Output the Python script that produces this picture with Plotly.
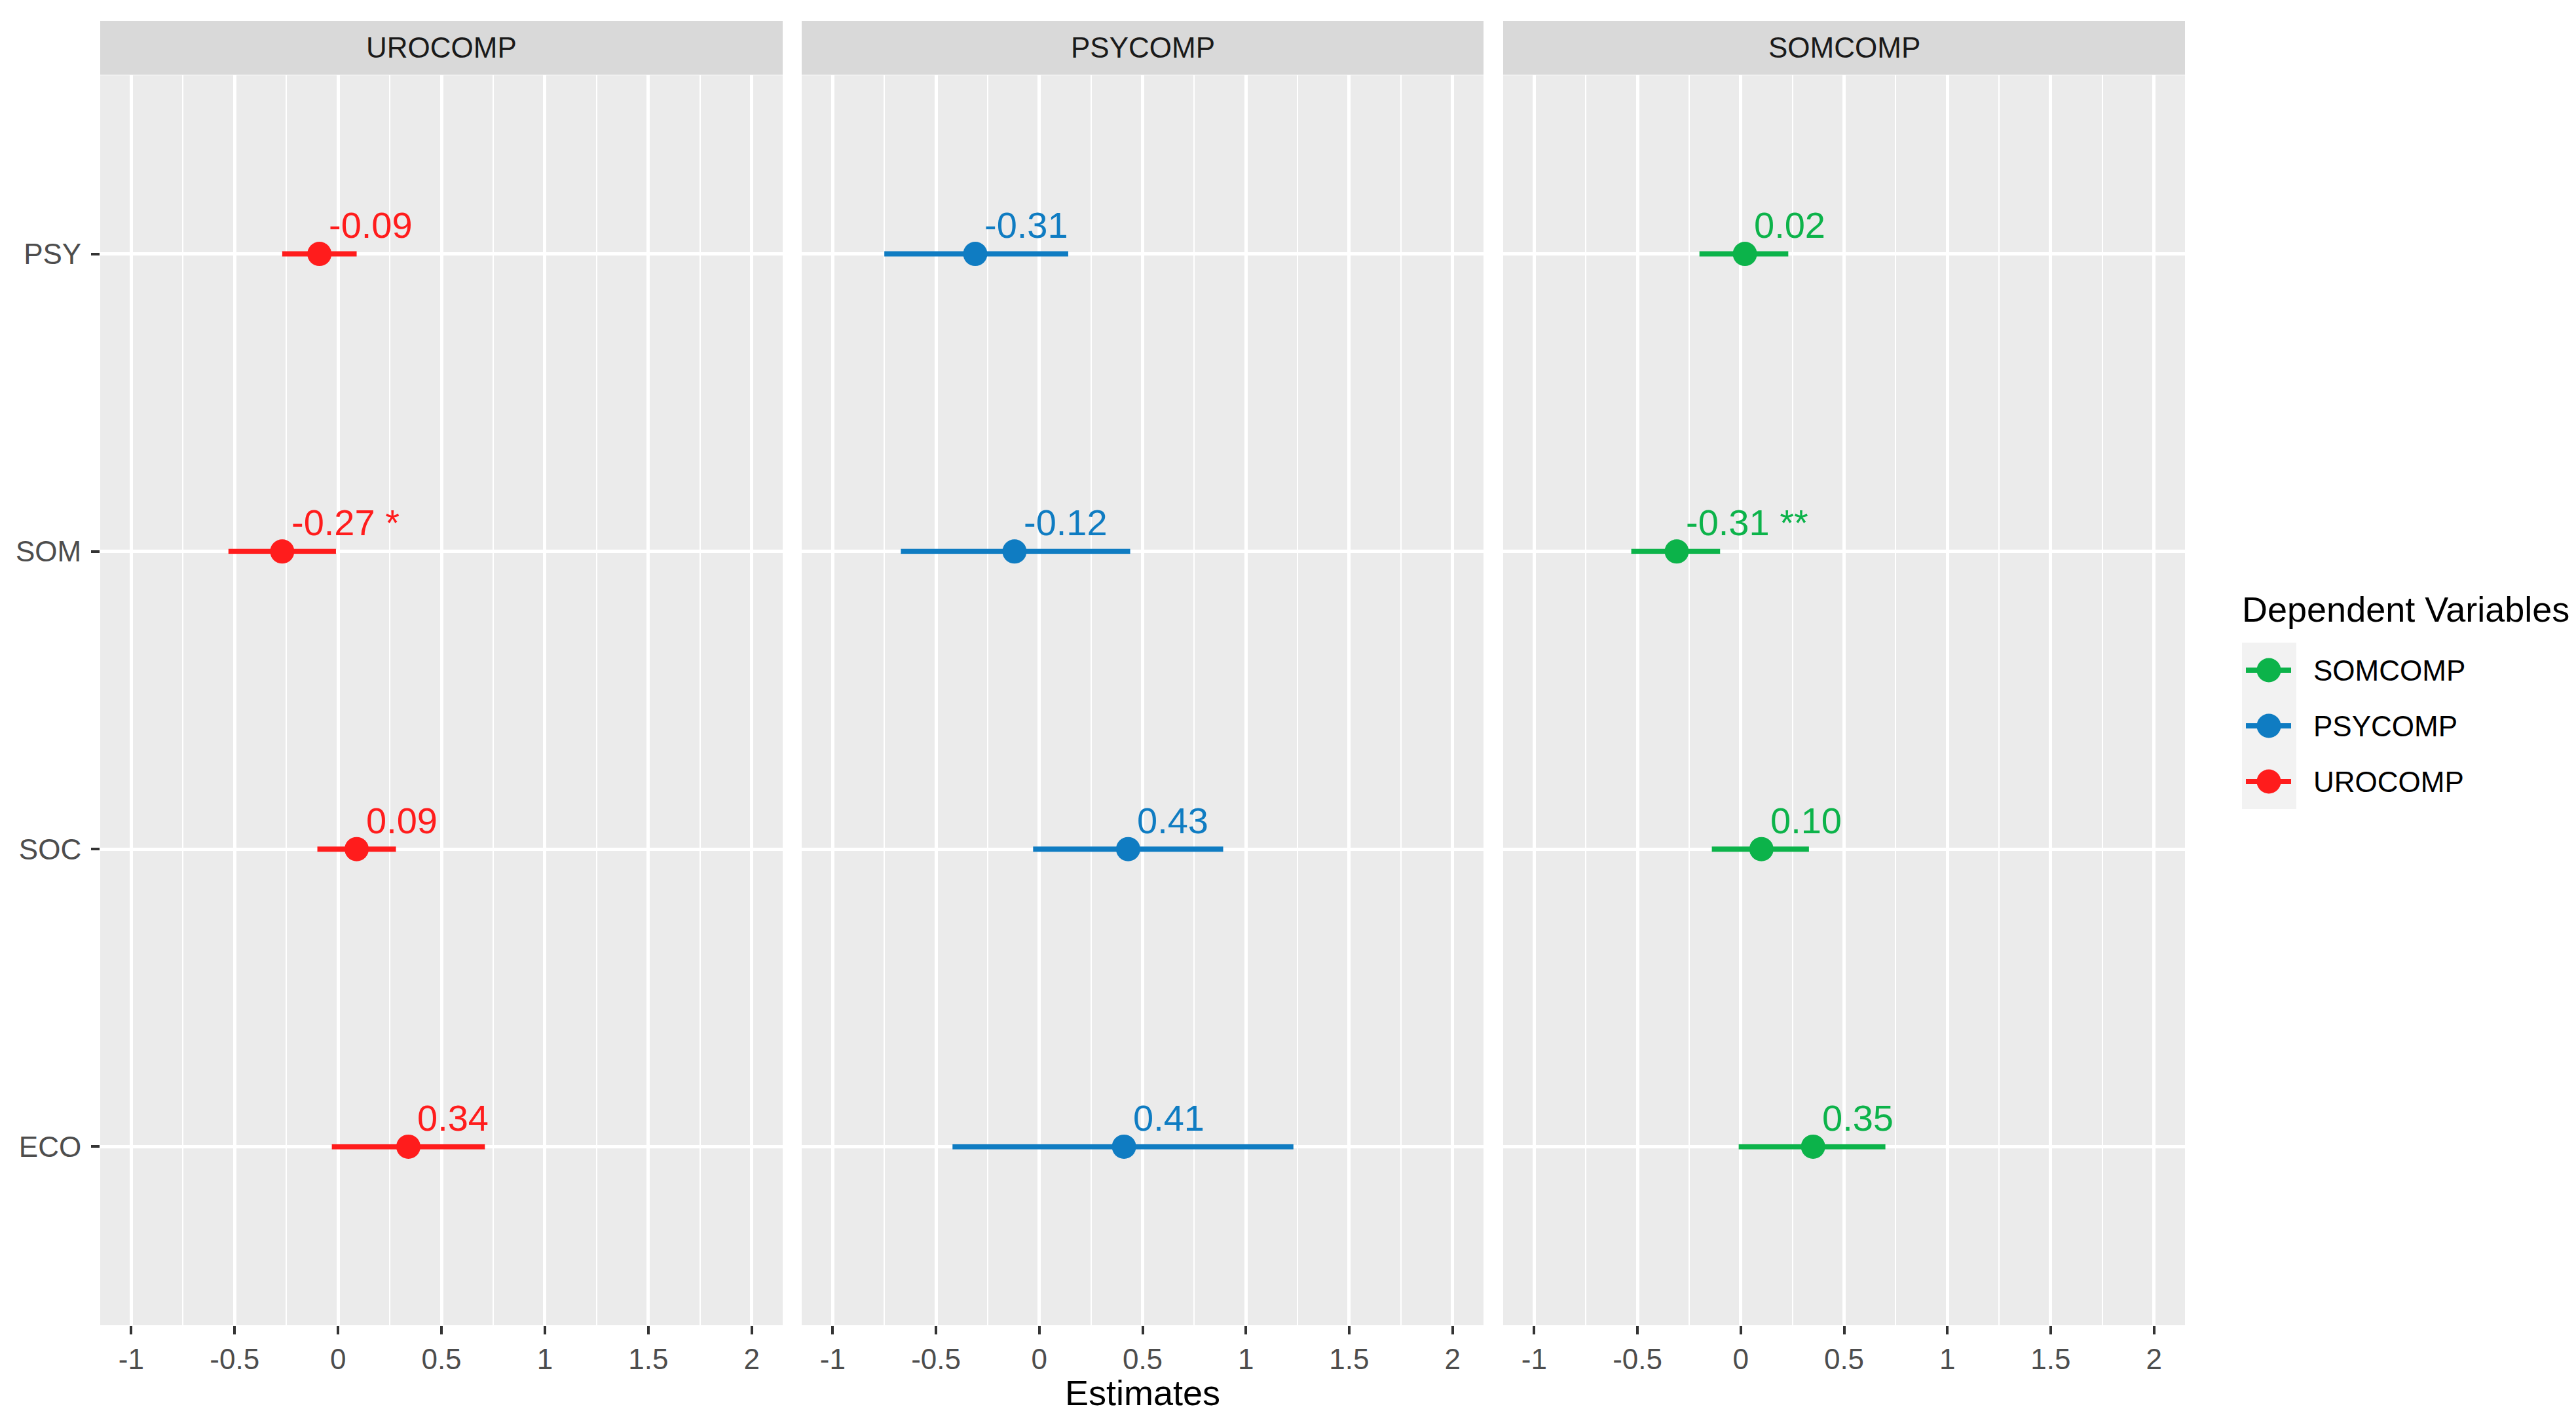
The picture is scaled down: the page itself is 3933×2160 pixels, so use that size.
import plotly.graph_objects as go

# ---------------- data ----------------
predictors = ["PSY", "SOM", "SOC", "ECO"]
panels = ["UROCOMP", "PSYCOMP", "SOMCOMP"]

uro_est = [-0.09, -0.27, 0.09, 0.34]
uro_lo = [-0.27, -0.53, -0.10, -0.03]
uro_hi = [0.09, -0.01, 0.28, 0.71]
uro_stars = ["", " *", "", ""]

psy_est = [-0.31, -0.12, 0.43, 0.41]
psy_lo = [-0.75, -0.67, -0.03, -0.42]
psy_hi = [0.14, 0.44, 0.89, 1.23]
psy_stars = ["", "", "", ""]

som_est = [0.02, -0.31, 0.10, 0.35]
som_lo = [-0.20, -0.53, -0.14, -0.01]
som_hi = [0.23, -0.10, 0.33, 0.70]
som_stars = ["", " **", "", ""]

x_tickvals = [-1, -0.5, 0, 0.5, 1, 1.5, 2]
x_ticktext = ["-1", "-0.5", "0", "0.5", "1", "1.5", "2"]
x_minor = [-0.75, -0.25, 0.25, 0.75, 1.25, 1.75]

legend_order = ["SOMCOMP", "PSYCOMP", "UROCOMP"]

# ---------------- styling ----------------
W, H = 3933, 2160
FONT = "Liberation Sans, Arial, Helvetica, sans-serif"
colors = {"UROCOMP": "#FF1C1C", "PSYCOMP": "#0F7CC2", "SOMCOMP": "#0CB34A"}


def PX(px):
    return px / W


def PY(py):
    return 1 - py / H


x_domains = [(145, 1187), (1216, 2257), (2287, 3328)]
y_domain = [PY(2015), PY(107)]
strip_y = (PY(106), PY(24))

series = {
    "UROCOMP": (uro_est, uro_lo, uro_hi, uro_stars),
    "PSYCOMP": (psy_est, psy_lo, psy_hi, psy_stars),
    "SOMCOMP": (som_est, som_lo, som_hi, som_stars),
}

fig = go.Figure()
annotations = []
shapes = []

for i, name in enumerate(panels, start=1):
    est, lo, hi, stars = series[name]
    col = colors[name]
    fig.add_trace(go.Scatter(
        x=est, y=predictors, mode="markers",
        marker=dict(size=37, color=col),
        error_x=dict(type="data", symmetric=False,
                     array=[h - e for h, e in zip(hi, est)],
                     arrayminus=[e - l for e, l in zip(est, lo)],
                     color=col, thickness=8, width=0),
        xaxis=f"x{i}", yaxis=f"y{i}", showlegend=False, hoverinfo="skip",
    ))
    for e, p, s in zip(est, predictors, stars):
        annotations.append(dict(
            x=e, y=p, xref=f"x{i}", yref=f"y{i}", text=f"{e:.2f}{s}",
            showarrow=False, xanchor="left", yanchor="middle",
            xshift=12, yshift=44, font=dict(family=FONT, size=56, color=col),
        ))
    d0, d1 = x_domains[i - 1]
    xa = dict(
        domain=[PX(d0), PX(d1)], range=[-1.15, 2.15],
        tickvals=x_tickvals, ticktext=x_ticktext,
        showgrid=True, gridcolor="white", gridwidth=4.5, zeroline=False,
        minor=dict(tickvals=x_minor, showgrid=True, gridcolor="white",
                   gridwidth=2.3, ticks=""),
        ticks="outside", ticklen=13, tickwidth=4, tickcolor="#333333",
        tickfont=dict(family=FONT, size=44, color="#4D4D4D"),
        showline=False, anchor=f"y{i}", fixedrange=True,
    )
    ya = dict(
        domain=y_domain, type="category",
        categoryorder="array", categoryarray=predictors[::-1],
        range=[-0.6, 3.6],
        showgrid=True, gridcolor="white", gridwidth=4.5, zeroline=False,
        showline=False, anchor=f"x{i}", fixedrange=True,
    )
    if i == 1:
        ya.update(ticks="outside", ticklen=13, tickwidth=4, tickcolor="#333333",
                  tickfont=dict(family=FONT, size=44, color="#4D4D4D"),
                  showticklabels=True, ticklabelstandoff=6)
    else:
        ya.update(ticks="", showticklabels=False)
    fig.update_layout({f"xaxis{i}": xa, f"yaxis{i}": ya})

    # facet strip
    shapes.append(dict(type="rect", xref="paper", yref="paper",
                       x0=PX(d0), x1=PX(d1), y0=strip_y[0], y1=strip_y[1],
                       fillcolor="#D9D9D9", line=dict(width=0), layer="below"))
    annotations.append(dict(x=PX((d0 + d1) / 2), y=(strip_y[0] + strip_y[1]) / 2,
                            xref="paper", yref="paper", text=name, showarrow=False,
                            xanchor="center", yanchor="middle",
                            font=dict(family=FONT, size=44, color="#1A1A1A")))

# axis title
annotations.append(dict(x=PX((1216 + 2257) / 2), y=PY(2118), xref="paper", yref="paper",
                        text="Estimates", showarrow=False, xanchor="center",
                        yanchor="middle", font=dict(family=FONT, size=54, color="black")))

# legend (drawn manually to match ggplot key glyphs)
annotations.append(dict(x=PX(3413), y=PY(922), xref="paper", yref="paper",
                        text="Dependent Variables", showarrow=False, xanchor="left",
                        yanchor="middle", font=dict(family=FONT, size=54, color="black")))
shapes.append(dict(type="rect", xref="paper", yref="paper",
                   x0=PX(3415), x1=PX(3498), y0=PY(1227), y1=PY(973),
                   fillcolor="#F2F2F2", line=dict(width=0), layer="below"))
item_y = [1015, 1100, 1185]
for name, yy in zip(legend_order, item_y):
    col = colors[name]
    shapes.append(dict(type="line", xref="paper", yref="paper",
                       x0=PX(3421), x1=PX(3490), y0=PY(yy), y1=PY(yy),
                       line=dict(color=col, width=8)))
    shapes.append(dict(type="circle", xref="paper", yref="paper",
                       x0=PX(3456 - 18.5), x1=PX(3456 + 18.5),
                       y0=PY(yy + 18.5), y1=PY(yy - 18.5),
                       fillcolor=col, line=dict(width=0)))
    annotations.append(dict(x=PX(3522), y=PY(yy), xref="paper", yref="paper",
                            text=name, showarrow=False, xanchor="left",
                            yanchor="middle",
                            font=dict(family=FONT, size=44, color="black")))

fig.update_layout(
    width=W, height=H, autosize=False,
    margin=dict(l=0, r=0, t=0, b=0),
    paper_bgcolor="white", plot_bgcolor="#EBEBEB",
    showlegend=False, annotations=annotations, shapes=shapes,
    font=dict(family=FONT),
)

fig.write_html("out.html")
